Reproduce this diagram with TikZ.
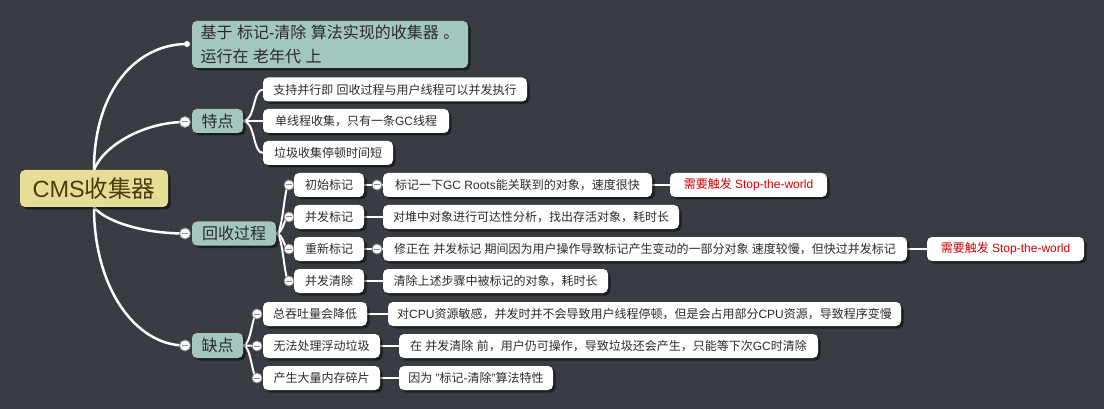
\documentclass[tikz,border=0pt]{standalone}
\usepackage{fontspec}
\setmainfont{Liberation Sans}
\newfontfamily\cjk{Noto Sans CJK SC}
\usetikzlibrary{shadows,patterns.meta}
\newcommand\z[1]{{\cjk #1}}
\definecolor{bg}{HTML}{393D43}
\definecolor{bgdot}{HTML}{2F3338}
\definecolor{tealc}{HTML}{A3C6BE}
\definecolor{rootc}{HTML}{E8DD96}
\definecolor{roottext}{HTML}{4A3B0E}
\definecolor{redt}{HTML}{D10000}
\definecolor{darkt}{HTML}{2B2B2B}
\definecolor{circb}{HTML}{8A8A8A}
\pgfdeclarelayer{bgl}
\pgfsetlayers{bgl,main}
\tikzset{
  box/.style={rounded corners=5pt, inner sep=0pt, minimum height=24pt,
    drop shadow={shadow xshift=2.5pt,shadow yshift=-2.5pt,fill=black,opacity=.5}},
  leaf/.style={box, fill=white, text=darkt, font=\fontsize{12}{15}\selectfont},
  redleaf/.style={leaf, text=redt},
  mid/.style={box, fill=tealc, text=darkt, font=\fontsize{16}{18}\selectfont},
  rootbox/.style={box, fill=rootc, text=roottext, font=\fontsize{23.5}{27}\selectfont, minimum height=37pt},
  link/.style={draw=white, line width=2.5pt},
  link2/.style={draw=white, line width=2pt},
  tog/.style={circle, fill=white, draw=circb, line width=0.8pt, minimum size=11pt, inner sep=0pt,
    path picture={\draw[circb, line width=1pt] ([xshift=-3.2pt]path picture bounding box.center) -- ([xshift=3.2pt]path picture bounding box.center);}},
  togs/.style={tog, minimum size=10pt},
  dotend/.style={circle, fill=white, minimum size=6pt, inner sep=0pt}
}
\begin{document}
\begin{tikzpicture}[x=1pt,y=-1pt]
\begin{pgfonlayer}{bgl}
\fill[bg] (0,0) rectangle (1104,409);
\fill[pattern={Dots[distance=4pt,radius=0.55pt]}, pattern color=bgdot] (0,0) rectangle (1104,409);
\end{pgfonlayer}
\useasboundingbox (0,0) rectangle (1104,409);

% level 0 and 1
\node[rootbox, minimum width=148pt] (root) at (94,188.5) {CMS\z{收集器}};
\node[mid, minimum width=276pt, minimum height=47pt, align=left, font=\fontsize{16}{24}\selectfont] (desc) at (330,44.5)
  {\z{基于} \z{标记}-\z{清除} \z{算法实现的收集器} \z{。}\\\z{运行在} \z{老年代} \z{上}};
\node[mid, minimum width=51pt] (td) at (217.5,121) {\z{特点}};
\node[mid, minimum width=84pt] (hs) at (234,233.5) {\z{回收过程}};
\node[mid, minimum width=51pt, minimum height=25pt] (qd) at (217.5,345.5) {\z{缺点}};

% 特点 children
\node[leaf, minimum width=264pt] (t1) at (395,89.5) {\z{支持并行即} \z{回收过程与用户线程可以并发执行}};
\node[leaf, minimum width=186pt] (t2) at (356,121) {\z{单线程收集，只有一条}GC\z{线程}};
\node[leaf, minimum width=130pt] (t3) at (328,153) {\z{垃圾收集停顿时间短}};

% 回收过程 children
\node[leaf, minimum width=70pt] (h1) at (329,185) {\z{初始标记}};
\node[leaf, minimum width=70pt] (h2) at (329,217) {\z{并发标记}};
\node[leaf, minimum width=70pt] (h3) at (329,249) {\z{重新标记}};
\node[leaf, minimum width=70pt] (h4) at (329,281) {\z{并发清除}};
\node[leaf, minimum width=269pt] (h1c) at (517.5,185) {\z{标记一下}GC Roots\z{能关联到的对象，速度很快}};
\node[redleaf, minimum width=157pt] (h1r) at (748.5,185) {\z{需要触发} Stop-the-world};
\node[leaf, minimum width=296pt] (h2c) at (531,217) {\z{对堆中对象进行可达性分析，找出存活对象，耗时长}};
\node[leaf, minimum width=524pt] (h3c) at (645,249) {\z{修正在} \z{并发标记} \z{期间因为用户操作导致标记产生变动的一部分对象} \z{速度较慢，但快过并发标记}};
\node[redleaf, minimum width=157pt] (h3r) at (1005.5,249) {\z{需要触发} Stop-the-world};
\node[leaf, minimum width=225pt] (h4c) at (495.5,281) {\z{清除上述步骤中被标记的对象，耗时长}};

% 缺点 children
\node[leaf, minimum width=104pt] (q1) at (315,314) {\z{总吞吐量会降低}};
\node[leaf, minimum width=117pt] (q2) at (321.5,346) {\z{无法处理浮动垃圾}};
\node[leaf, minimum width=117pt] (q3) at (321.5,378) {\z{产生大量内存碎片}};
\node[leaf, minimum width=513pt] (q1c) at (644.5,314) {\z{对}CPU\z{资源敏感，并发时并不会导致用户线程停顿，但是会占用部分}CPU\z{资源，导致程序变慢}};
\node[leaf, minimum width=419pt] (q2c) at (608.5,346) {\z{在} \z{并发清除} \z{前，用户仍可操作，导致垃圾还会产生，只能等下次}GC\z{时清除}};
\node[leaf, minimum width=154pt] (q3c) at (476,378) {\z{因为} "\z{标记}-\z{清除}"\z{算法特性}};

% toggles
\node[dotend] (cdesc) at (187,44) {};
\node[tog] (ctd) at (185,122) {};
\node[tog] (chs) at (185,233.5) {};
\node[tog] (cqd) at (185,345.5) {};
\node[togs] (ch1) at (289,185) {};
\node[togs] (ch2) at (289,217) {};
\node[togs] (ch3) at (289,249) {};
\node[togs] (ch4) at (289,281) {};
\node[togs] (cq1) at (257,314) {};
\node[togs] (cq2) at (257,346) {};
\node[togs] (cq3) at (257,378) {};
\node[togs] (ch1c) at (377,185) {};
\node[togs] (ch3c) at (377,249) {};

\begin{pgfonlayer}{bgl}
% root links
\draw[link] (root.north) .. controls +(0,-80) and +(-50,0) .. (cdesc.center);
\draw[link] (root.north) .. controls +(10,-25) and +(-40,0) .. (ctd.center);
\draw[link] (root.south) .. controls +(10,13) and +(-45,0) .. (chs.center);
\draw[link] (root.south) .. controls +(0,80) and +(-50,0) .. (cqd.center);
% 特点
\draw[link2] (td.east) .. controls +(12,0) and +(-10,0) .. (t1.west);
\draw[link2] (td.east) -- (t2.west);
\draw[link2] (td.east) .. controls +(12,0) and +(-10,0) .. (t3.west);
% 回收过程
\foreach \c in {ch1,ch2,ch3,ch4}
  \draw[link2] (hs.east) .. controls +(7,0) and +(-5,0) .. (\c.center);
\draw[link2] (h1.east) -- (h1c.west);
\draw[link2] (h2.east) -- (h2c.west);
\draw[link2] (h3.east) -- (h3c.west);
\draw[link2] (h4.east) -- (h4c.west);
\draw[link2] (h1c.east) -- (h1r.west);
\draw[link2] (h3c.east) -- (h3r.west);
% 缺点
\foreach \c in {cq1,cq2,cq3}
  \draw[link2] (qd.east) .. controls +(8,0) and +(-5,0) .. (\c.center);
\draw[link2] (q1.east) -- (q1c.west);
\draw[link2] (q2.east) -- (q2c.west);
\draw[link2] (q3.east) -- (q3c.west);
\end{pgfonlayer}
\end{tikzpicture}
\end{document}
